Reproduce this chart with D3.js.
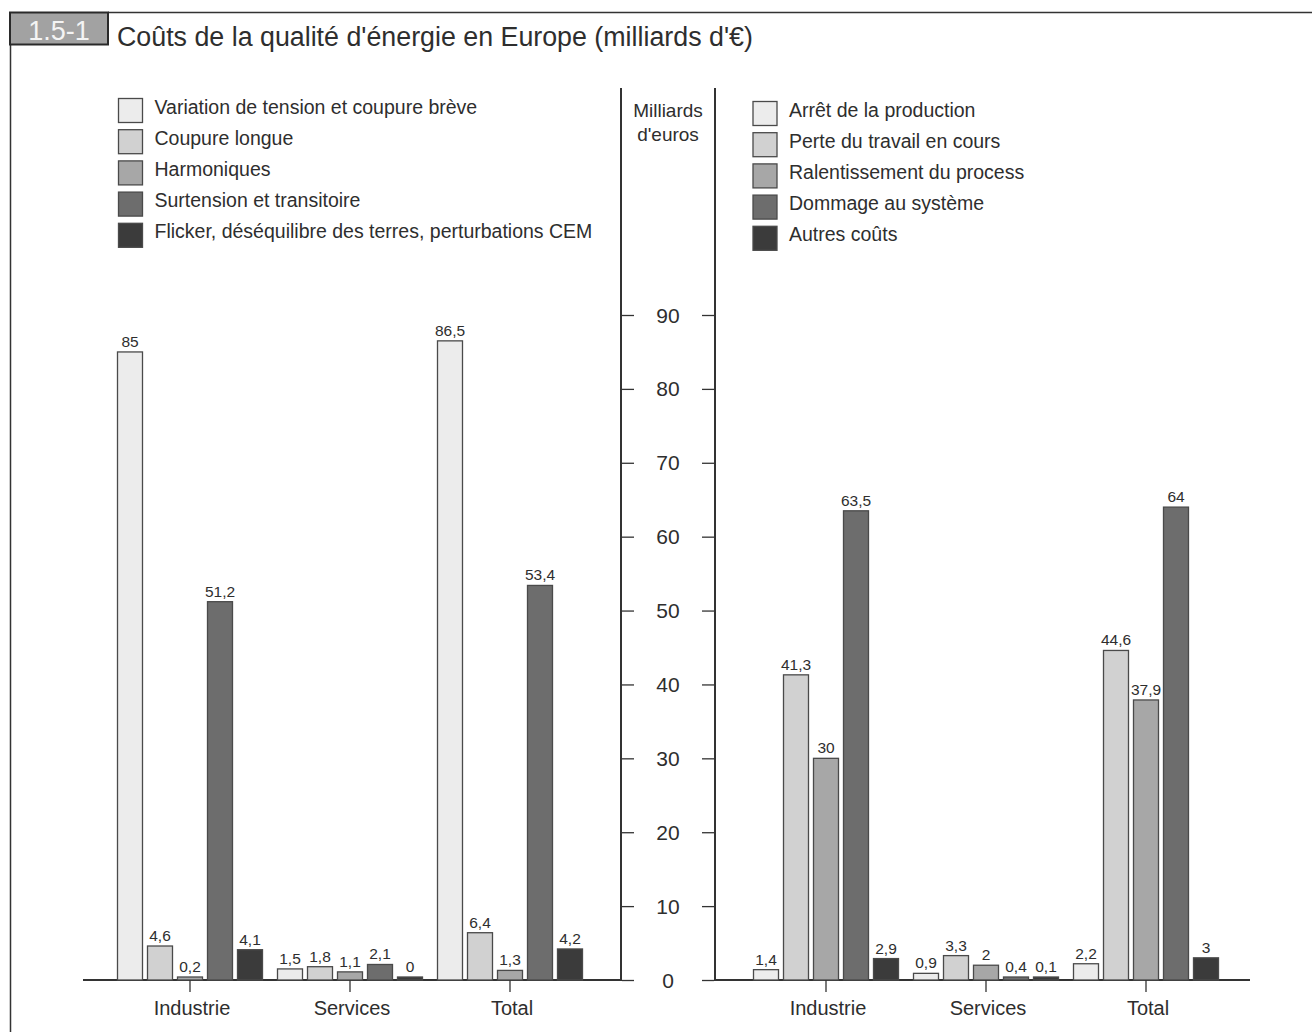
<!DOCTYPE html>
<html lang="fr">
<head>
<meta charset="utf-8">
<script src="https://cdn.jsdelivr.net/npm/d3@7"></script>
<style>
  html, body { margin: 0; padding: 0; background: #fff; }
  svg { display: block; font-family: "Liberation Sans", Arial, sans-serif; }
</style>
</head>
<body>
<svg id="chart" width="1312" height="1032"></svg>
<script>
// Categories shared by both panels
const categories = ["Industrie", "Services", "Total"];

// Left panel: costs by type of disturbance
const leftSeries = [
  "Variation de tension et coupure brève",
  "Coupure longue",
  "Harmoniques",
  "Surtension et transitoire",
  "Flicker, déséquilibre des terres, perturbations CEM"
];
const leftIndustrie = [85, 4.6, 0.2, 51.2, 4.1];
const leftServices  = [1.5, 1.8, 1.1, 2.1, 0];
const leftTotal     = [86.5, 6.4, 1.3, 53.4, 4.2];

// Right panel: costs by type of consequence
const rightSeries = [
  "Arrêt de la production",
  "Perte du travail en cours",
  "Ralentissement du process",
  "Dommage au système",
  "Autres coûts"
];
const rightIndustrie = [1.4, 41.3, 30, 63.5, 2.9];
const rightServices  = [0.9, 3.3, 2, 0.4, 0.1];
const rightTotal     = [2.2, 44.6, 37.9, 64, 3];

// Value axis ticks
const yTicks = [0, 10, 20, 30, 40, 50, 60, 70, 80, 90];

const title = "Coûts de la qualité d'énergie en Europe (milliards d'€)";
const figureNumber = "1.5-1";
const unitLines = ["Milliards", "d'euros"];

const shades = ["#ececec", "#d1d1d1", "#a7a7a7", "#6d6d6d", "#3b3b3b"];
const ink = "#2e2e2e";
const fmt = v => String(v).replace(".", ",");

const svg = d3.select("#chart");

// Frame: top rule and left rule
svg.append("line").attr("x1", 108).attr("x2", 1312).attr("y1", 12.5).attr("y2", 12.5)
  .attr("stroke", "#333").attr("stroke-width", 1.5);
svg.append("line").attr("x1", 10.5).attr("x2", 10.5).attr("y1", 44).attr("y2", 1032)
  .attr("stroke", "#333").attr("stroke-width", 1.5);

// Figure number box
svg.append("rect").attr("x", 10).attr("y", 12.5).attr("width", 98).attr("height", 32)
  .attr("fill", "#a2a2a2").attr("stroke", "#2a2a2a").attr("stroke-width", 2);
svg.append("text").attr("x", 59).attr("y", 40).attr("text-anchor", "middle")
  .attr("font-size", 27).attr("fill", "#f4f4f4").text(figureNumber);

// Title
svg.append("text").attr("x", 117).attr("y", 46).attr("font-size", 26.8)
  .attr("fill", ink).text(title);

// Shared value scale
const y = d3.scaleLinear().domain([0, 90]).range([980, 315]);

// Central value axis between the two panels
const axisL = 621, axisR = 715;
svg.append("line").attr("x1", axisL).attr("x2", axisL).attr("y1", 88).attr("y2", 981)
  .attr("stroke", "#333").attr("stroke-width", 2);
svg.append("line").attr("x1", axisR).attr("x2", axisR).attr("y1", 88).attr("y2", 981)
  .attr("stroke", "#333").attr("stroke-width", 2);

const gAxL = svg.append("g").attr("transform", `translate(${axisL + 1},0)`)
  .call(d3.axisRight(y).tickValues(yTicks).tickSize(12).tickFormat(""));
const gAxR = svg.append("g").attr("transform", `translate(${axisR - 1},0)`)
  .call(d3.axisLeft(y).tickValues(yTicks).tickSize(12).tickFormat(""));
[gAxL, gAxR].forEach(g => {
  g.select(".domain").remove();
  g.selectAll(".tick line").attr("stroke", "#333").attr("stroke-width", 1.3);
});
svg.append("g").selectAll("text").data(yTicks).join("text")
  .attr("x", (axisL + axisR) / 2).attr("y", d => y(d) + 7.5)
  .attr("text-anchor", "middle").attr("font-size", 21).attr("fill", ink)
  .text(d => d);

svg.append("g").selectAll("text").data(unitLines).join("text")
  .attr("x", (axisL + axisR) / 2).attr("y", (d, i) => 117 + i * 24)
  .attr("text-anchor", "middle").attr("font-size", 19).attr("fill", ink)
  .text(d => d);

function panel(opts) {
  const { values, series, range, baseline, legendX, legendY } = opts;
  const g = svg.append("g");

  const x0 = d3.scaleBand().domain(categories).range(range).padding(0);
  const x1 = d3.scaleBand().domain(d3.range(series.length))
    .range([-75, 75]).paddingInner(1 / 6).paddingOuter(1 / 12);

  // Baseline
  g.append("line").attr("x1", baseline[0]).attr("x2", baseline[1])
    .attr("y1", y(0)).attr("y2", y(0)).attr("stroke", "#333").attr("stroke-width", 2);

  const groups = g.selectAll("g.grp").data(categories).join("g")
    .attr("class", "grp")
    .attr("transform", c => `translate(${x0(c) + x0.bandwidth() / 2},0)`);

  const cells = groups.selectAll("g.cell")
    .data((c, ci) => values[ci].map((v, si) => ({ v, si })))
    .join("g").attr("class", "cell");

  cells.append("rect")
    .attr("x", d => x1(d.si))
    .attr("width", x1.bandwidth())
    .attr("y", d => Math.min(y(d.v), y(0) - 3))
    .attr("height", d => Math.max(y(0) - y(d.v), 3))
    .attr("fill", d => shades[d.si])
    .attr("stroke", "#4a4a4a").attr("stroke-width", 1.3);

  cells.append("text")
    .attr("x", d => x1(d.si) + x1.bandwidth() / 2)
    .attr("y", d => Math.min(y(d.v), y(0) - 3) - 5)
    .attr("text-anchor", "middle").attr("font-size", 15.5).attr("fill", ink)
    .text(d => fmt(d.v));

  // Category ticks and labels
  groups.append("line").attr("y1", y(0)).attr("y2", y(0) + 12)
    .attr("stroke", "#333").attr("stroke-width", 1.3);
  groups.append("text").attr("y", 1015).attr("x", 2)
    .attr("text-anchor", "middle").attr("font-size", 20).attr("fill", ink)
    .text(c => c);

  // Legend
  const leg = g.selectAll("g.leg").data(series).join("g").attr("class", "leg")
    .attr("transform", (d, i) => `translate(${legendX},${legendY + i * 31.2})`);
  leg.append("rect").attr("width", 24).attr("height", 24)
    .attr("fill", (d, i) => shades[i]).attr("stroke", "#4a4a4a").attr("stroke-width", 1.3);
  leg.append("text").attr("x", 36).attr("y", 15).attr("font-size", 19.5).attr("fill", ink)
    .text(d => d);
}

panel({
  values: [leftIndustrie, leftServices, leftTotal],
  series: leftSeries,
  range: [110, 590],
  baseline: [83, axisL],
  legendX: 118.5, legendY: 98.5
});

panel({
  values: [rightIndustrie, rightServices, rightTotal],
  series: rightSeries,
  range: [746, 1226],
  baseline: [axisR, 1250],
  legendX: 753, legendY: 101.5
});
</script>
</body>
</html>
